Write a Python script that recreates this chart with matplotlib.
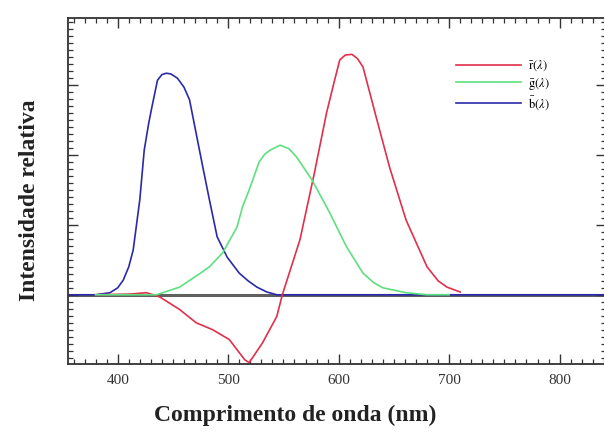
import matplotlib.pyplot as plt
from matplotlib.ticker import MultipleLocator

# values (wavelength in nm, relative intensity)
blue_wl = [355, 380, 393, 400, 405, 410, 414, 420, 424, 428, 431, 436, 440, 444, 448, 454,
           460, 465, 471, 477, 483, 490, 499, 510, 518, 526, 535, 544, 560, 842]
blue_val = [0, 0, 0.03, 0.10, 0.21, 0.40, 0.64, 1.36, 2.07, 2.45, 2.69, 3.07, 3.15, 3.17,
            3.16, 3.10, 2.97, 2.79, 2.31, 1.83, 1.36, 0.83, 0.54, 0.31, 0.20, 0.11, 0.04,
            0.0, 0, 0]

green_wl = [380, 410, 435, 456, 474, 483, 495, 508, 513, 519, 528, 533, 538, 547, 555, 562,
            576, 592, 607, 622, 632, 640, 661, 680, 700]
green_val = [0, 0, 0, 0.11, 0.30, 0.40, 0.60, 0.97, 1.26, 1.50, 1.90, 2.01, 2.07, 2.14,
             2.09, 1.97, 1.64, 1.17, 0.69, 0.31, 0.17, 0.10, 0.03, 0.0, 0]

red_wl = [380, 411, 426, 438, 456, 471, 486, 501, 515, 519, 531, 544, 549, 565, 578, 589,
          596, 601, 606, 612, 617, 622, 634, 646, 661, 680, 690, 698, 710]
red_val = [0, 0.01, 0.03, -0.03, -0.21, -0.40, -0.50, -0.64, -0.93, -0.97, -0.69, -0.31,
           0.0, 0.79, 1.74, 2.60, 3.05, 3.36, 3.43, 3.44, 3.38, 3.26, 2.54, 1.83, 1.07,
           0.40, 0.20, 0.11, 0.04]

plt.rcParams["font.family"] = "Liberation Serif"
plt.rcParams["mathtext.fontset"] = "stix"

fig = plt.figure(figsize=(6.04, 4.32), dpi=100)
ax = fig.add_axes([68 / 604, 1 - 364 / 432, 538 / 604, 346 / 432])

ax.axhline(0, color="#606060", lw=2.2, zorder=1)
ax.plot(red_wl, red_val, color="#e0304a", lw=1.2, label=r"$\bar{\mathrm{r}}(\lambda)$", zorder=3)
ax.plot(green_wl, green_val, color="#5ee080", lw=1.2, label=r"$\bar{\mathrm{g}}(\lambda)$", zorder=3)
ax.plot(blue_wl, blue_val, color="#2a2aa8", lw=1.2, label=r"$\bar{\mathrm{b}}(\lambda)$", zorder=2)

ax.set_xlim(355, 842)
ax.set_ylim(-0.99, 3.96)
ax.xaxis.set_major_locator(MultipleLocator(100))
ax.xaxis.set_minor_locator(MultipleLocator(10))
ax.yaxis.set_major_locator(MultipleLocator(1))
ax.yaxis.set_minor_locator(MultipleLocator(0.1))
ax.tick_params(which="both", direction="in", top=True, right=True, color="#333333",
               labelleft=False, labelsize=11, labelcolor="#333333")
ax.tick_params(which="major", length=7, width=1.0, pad=7)
ax.tick_params(which="minor", length=3.5, width=0.9)
for s in ax.spines.values():
    s.set_linewidth(1.3)
    s.set_color("#333333")

ax.legend(loc="upper left", bbox_to_anchor=(0.70, 0.915), frameon=False, fontsize=9,
          handlelength=5.2, labelspacing=0.2, handletextpad=0.6)

fig.text(295 / 604, 1 - 415 / 432, "Comprimento de onda (nm)", ha="center", va="center",
         fontsize=17, fontweight="bold", color="#222222")
fig.text(30 / 604, 1 - 200 / 432, "Intensidade relativa", ha="center", va="center",
         rotation=90, fontsize=17, fontweight="bold", color="#222222")

fig.savefig("out.png", dpi=100)
